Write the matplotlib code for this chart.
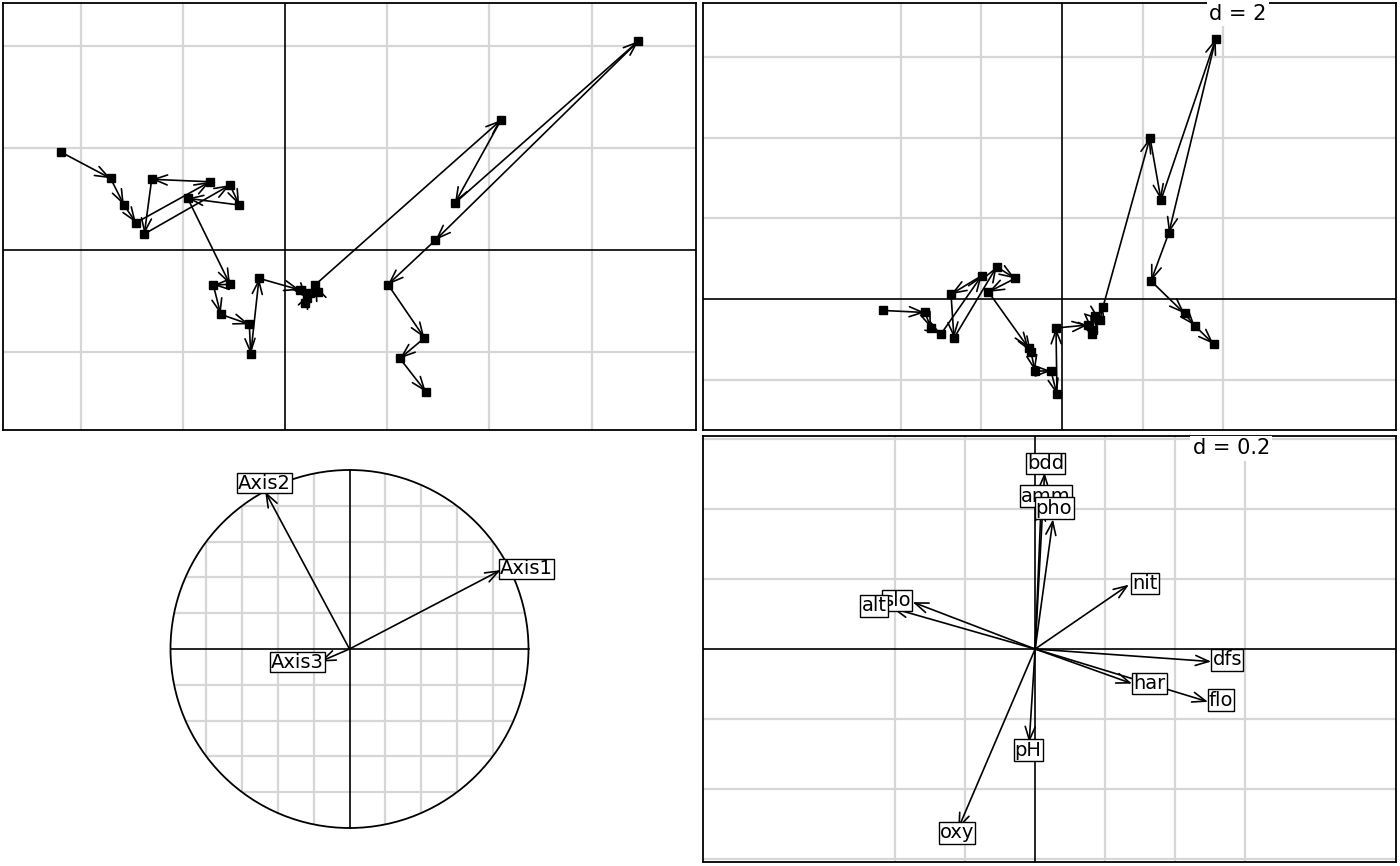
import matplotlib
matplotlib.use("Agg")
import matplotlib.pyplot as plt
from matplotlib.patches import Circle
import numpy as np

# ---------------- data ----------------
# top-left trajectory (30 sites)
tl_x = [-2.188, -1.706, -1.575, -1.458, -0.734, -1.304, -1.376, -0.538, -0.447, -0.952,
        -0.538, -0.701, -0.629, -0.349, -0.335, -0.254, 0.147, 0.212, 0.196, 0.245,
        0.323, 0.294, 2.114, 1.663, 3.459, 1.473, 1.008, 1.365, 1.125, 1.380]
tl_y = [0.956, 0.701, 0.440, 0.267, 0.668, 0.692, 0.157, 0.636, 0.440, 0.506,
        -0.336, -0.342, -0.629, -0.727, -1.020, -0.277, -0.391, -0.473, -0.519, -0.421,
        -0.408, -0.342, 1.272, 0.460, 2.045, 0.098, -0.338, -0.860, -1.061, -1.389]
# top-right trajectory (30 sites)
tr_x = [-4.434, -3.400, -3.251, -3.002, -1.993, -2.754, -2.680, -1.621, -1.166, -1.824,
        -0.831, -0.769, -0.670, -0.273, -0.124, -0.149, 0.645, 0.769, 0.744, 0.819,
        0.943, 1.017, 2.184, 2.457, 3.816, 2.650, 2.208, 3.040, 3.291, 3.760]
tr_y = [-0.285, -0.335, -0.720, -0.868, 0.578, 0.117, -0.968, 0.801, 0.509, 0.174,
        -1.216, -1.315, -1.787, -1.787, -2.370, -0.720, -0.645, -0.769, -0.868, -0.422,
        -0.521, -0.199, 4.007, 2.457, 6.457, 1.638, 0.447, -0.360, -0.658, -1.117]

# variable loadings (bottom-right)
var_names = ["bdd", "amm", "pho", "nit", "slo", "alt", "dfs", "har", "flo", "pH", "oxy"]
var_x = [0.027, 0.017, 0.051, 0.268, -0.350, -0.409, 0.503, 0.277, 0.494, -0.017, -0.220]
var_y = [0.504, 0.411, 0.371, 0.184, 0.134, 0.117, -0.036, -0.099, -0.151, -0.267, -0.514]
var_lab_x = [0.030, 0.031, 0.054, 0.313, -0.394, -0.460, 0.549, 0.326, 0.531, -0.020, -0.223]
var_lab_y = [0.530, 0.437, 0.403, 0.188, 0.138, 0.123, -0.031, -0.098, -0.146, -0.289, -0.526]

# inertia axes (bottom-left correlation circle)
axis_names = ["Axis1", "Axis2", "Axis3"]
axis_x = [0.845, -0.471, -0.165]
axis_y = [0.441, 0.879, -0.071]
axis_lab_x = [0.989, -0.475, -0.290]
axis_lab_y = [0.447, 0.927, -0.073]

# grid positions
tl_vgrid = [-2, -1, 1, 2, 3]
tl_hgrid = [-1, 1, 2]
tr_vgrid = [-4, -2, 2, 4]
tr_hgrid = [-2, 2, 4, 6]
br_vgrid = [-0.4, -0.2, 0.2, 0.4, 0.6]
br_hgrid = [-0.6, -0.4, -0.2, 0.2, 0.4, 0.6]
circ_grid = [-0.8, -0.6, -0.4, -0.2, 0.2, 0.4, 0.6, 0.8]

# ---------------- style ----------------
plt.rcParams['font.family'] = ['DejaVu Sans']
GRID = '#d6d6d6'
FS = 14
W, H = 1400, 866
fig = plt.figure(figsize=(W / 100, H / 100), dpi=100)


def panel(x0, y0, x1, y1):
    return fig.add_axes([x0 / W, 1 - y1 / H, (x1 - x0) / W, (y1 - y0) / H])


def frame(ax, xlim, ylim, vgrid, hgrid):
    ax.set_xlim(*xlim)
    ax.set_ylim(*ylim)
    ax.set_xticks([])
    ax.set_yticks([])
    for s in ax.spines.values():
        s.set_linewidth(1.3)
        s.set_color('black')
    for v in vgrid:
        ax.axvline(v, color=GRID, lw=1.6, zorder=0)
    for h in hgrid:
        ax.axhline(h, color=GRID, lw=1.6, zorder=0)
    ax.axvline(0, color='black', lw=1.2, zorder=1)
    ax.axhline(0, color='black', lw=1.2, zorder=1)


def arrow(ax, x0, y0, x1, y1, z=2):
    ax.annotate("", xy=(x1, y1), xytext=(x0, y0),
                arrowprops=dict(arrowstyle="->,head_length=0.8,head_width=0.3",
                                lw=1.2, color='black', shrinkA=0, shrinkB=0,
                                mutation_scale=12),
                zorder=z)


def traject(ax, xs, ys):
    for i in range(len(xs) - 1):
        arrow(ax, xs[i], ys[i], xs[i + 1], ys[i + 1])
    ax.plot(xs, ys, ls='none', marker='s', ms=6, mfc='black', mec='black', zorder=3)


# top-left
ax1 = panel(3, 3, 696, 430)
frame(ax1, (-2.759, 4.022), (-1.761, 2.417), tl_vgrid, tl_hgrid)
traject(ax1, tl_x, tl_y)

# top-right
ax2 = panel(703, 3, 1396, 430)
frame(ax2, (-8.908, 8.288), (-3.251, 7.345), tr_vgrid, tr_hgrid)
traject(ax2, tr_x, tr_y)
ax2.text(4.37, 7.33, "d = 2", ha='center', va='top', fontsize=15, zorder=4,
         bbox=dict(boxstyle='square,pad=0.12', fc='white', ec='none'))

# bottom-right
ax4 = panel(703, 436, 1396, 862)
frame(ax4, (-0.949, 1.031), (-0.609, 0.609), br_vgrid, br_hgrid)
for i in range(len(var_names)):
    arrow(ax4, 0, 0, var_x[i], var_y[i])
for i, nm in enumerate(var_names):
    ax4.text(var_lab_x[i], var_lab_y[i], nm, ha='center', va='center', fontsize=FS,
             zorder=4, bbox=dict(boxstyle='square,pad=0.06', fc='white', ec='black', lw=1.0))
ax4.text(0.56, 0.603, "d = 0.2", ha='center', va='top', fontsize=15, zorder=4,
         bbox=dict(boxstyle='square,pad=0.12', fc='white', ec='none'))

# bottom-left (correlation circle)
ax3 = panel(3, 436, 696, 862)
r_px = 179.0
ax3.set_xlim(-(693 / 2) / r_px, (693 / 2) / r_px)
ax3.set_ylim(-(426 / 2) / r_px, (426 / 2) / r_px)
ax3.set_axis_off()
clip = Circle((0, 0), 1, transform=ax3.transData, fc='none', ec='none')
ax3.add_patch(clip)
for g in circ_grid:
    l1, = ax3.plot([g, g], [-1, 1], color=GRID, lw=1.6, zorder=0)
    l1.set_clip_path(clip)
    l2, = ax3.plot([-1, 1], [g, g], color=GRID, lw=1.6, zorder=0)
    l2.set_clip_path(clip)
ax3.plot([-1, 1], [0, 0], color='black', lw=1.2, zorder=1)
ax3.plot([0, 0], [-1, 1], color='black', lw=1.2, zorder=1)
ax3.add_patch(Circle((0, 0), 1, fc='none', ec='black', lw=1.3, zorder=1))
for i in range(len(axis_names)):
    arrow(ax3, 0, 0, axis_x[i], axis_y[i])
for i, nm in enumerate(axis_names):
    ax3.text(axis_lab_x[i], axis_lab_y[i], nm, ha='center', va='center', fontsize=FS,
             zorder=4, bbox=dict(boxstyle='square,pad=0.04', fc='white', ec='black', lw=1.0))

fig.savefig("out.png", dpi=100)
